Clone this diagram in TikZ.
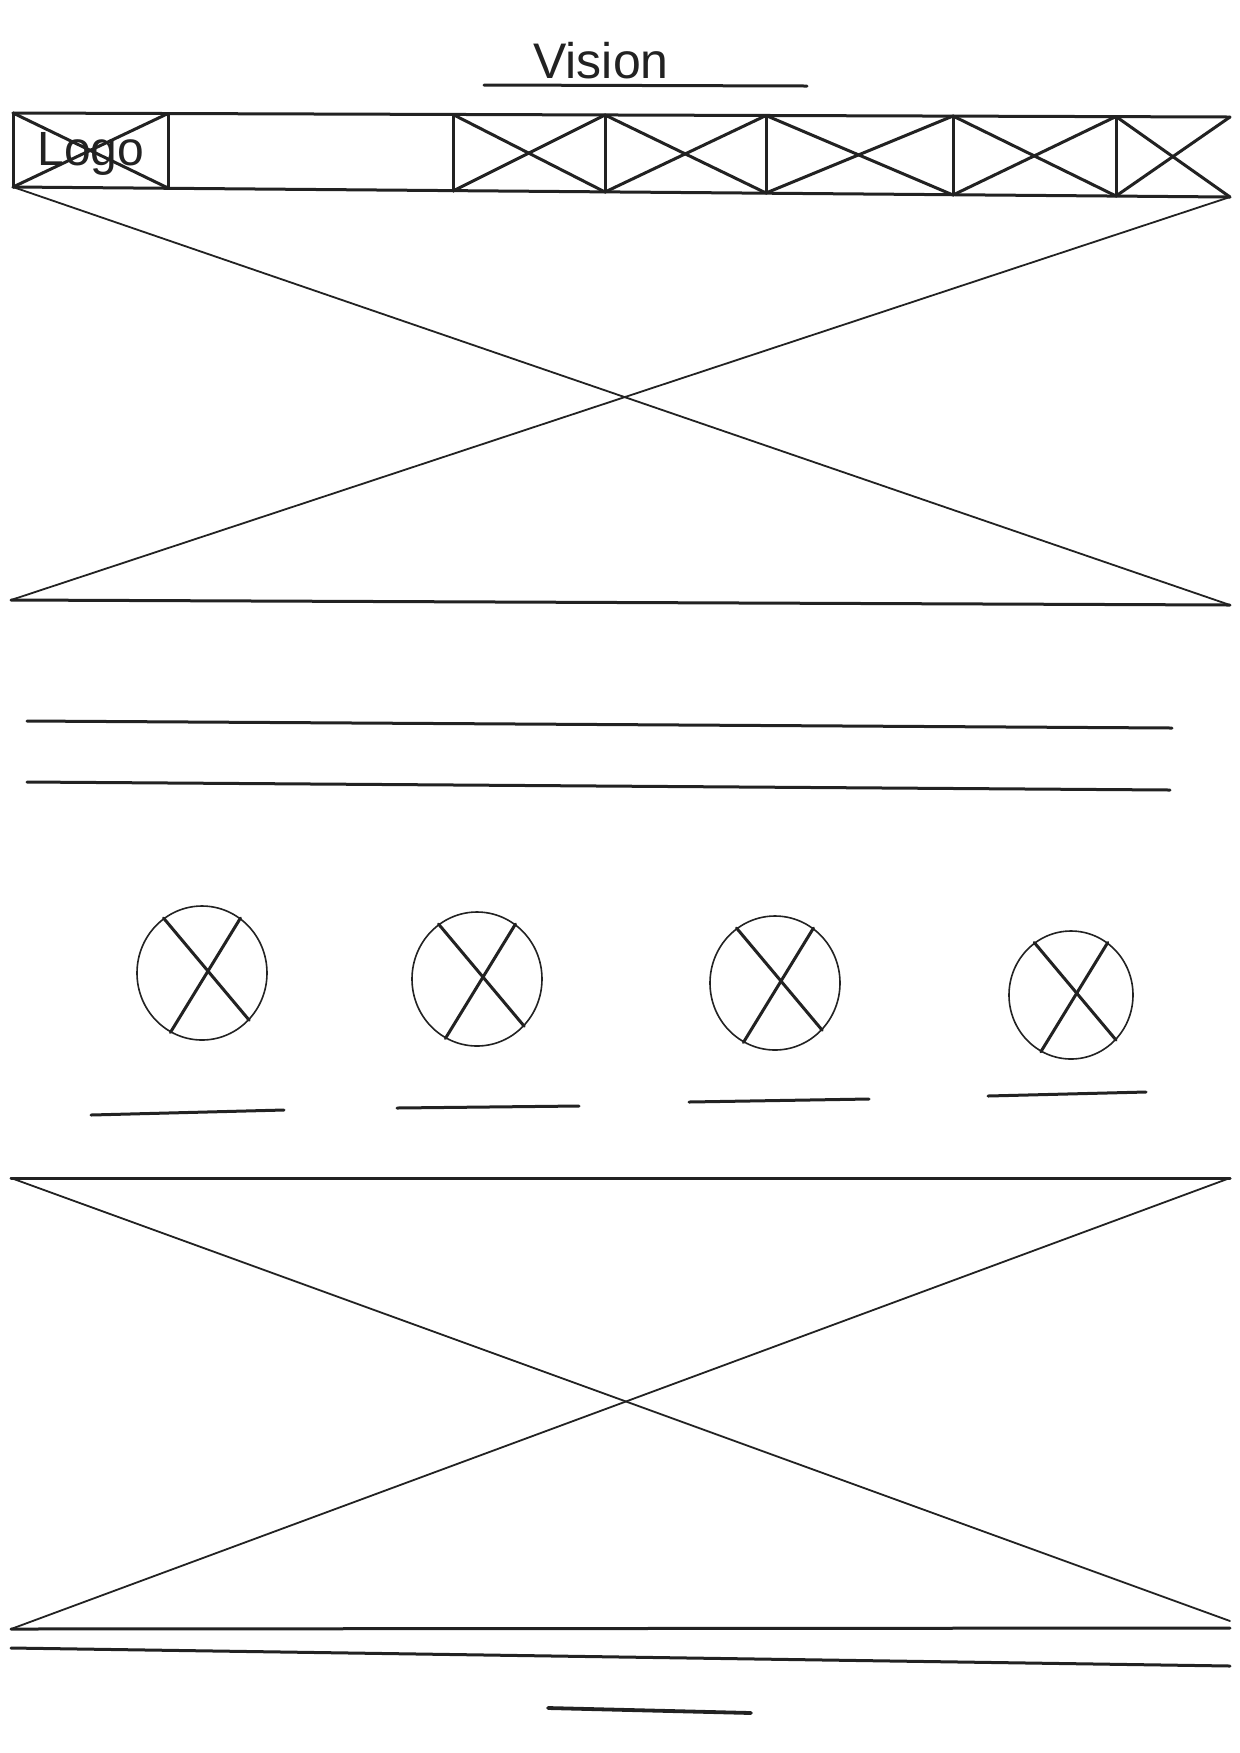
\documentclass[tikz,border=0pt]{standalone}
\usepackage{fontspec}
\setmainfont{Liberation Sans}
\definecolor{Ink}{RGB}{34,34,34}
\usetikzlibrary{shapes.geometric}

\begin{document}
\begin{tikzpicture}[x=0.5pt, y=-0.5pt,
    pen/.style={line width=1.5pt, draw=Ink, line cap=round, line join=round},
    fine/.style={line width=0.9pt, draw=Ink, line cap=round},
    icon/.style={ellipse, draw=Ink, line width=0.8pt, inner sep=0pt, minimum width=#1*0.5pt, minimum height=#1*0.5pt+2pt},
    label/.style={text=Ink, inner sep=0pt}
]
    \useasboundingbox[fill=white] (0,0) rectangle (1240,1753);

    % title
    \node[label, font=\fontsize{25}{28}\selectfont, anchor=base] (vision) at (601,78) {Vision};
    \draw[pen] (484,85) -- (807,86);

    % header bar
    \foreach \x/\yt/\yb/\n in {13/113/187/0, 168/113.5/188/1, 453/114.5/191/2, 605/115/192/3,
                              766/115.5/193/4, 953/116/195/5, 1116/116.5/196/6, 1230/117/197/7} {
        \coordinate (t\n) at (\x,\yt);
        \coordinate (b\n) at (\x,\yb);
    }
    \draw[pen] (t0) -- (t7);
    \draw[pen] (b0) -- (b7);
    \foreach \n in {0,...,6}
        \draw[pen] (t\n) -- (b\n);
    \foreach \a/\b in {0/1, 2/3, 3/4, 4/5, 5/6, 6/7} {
        \draw[pen] (t\a) -- (b\b);
        \draw[pen] (b\a) -- (t\b);
    }
    \node[label, font=\fontsize{24}{27}\selectfont, anchor=base west] (logo) at (37,165) {Logo};

    % hero image
    \coordinate (hbl) at (11,600);
    \coordinate (hbr) at (1230,605);
    \draw[pen] (hbl) -- (hbr);
    \draw[fine] (b0) -- (hbr);
    \draw[fine] (hbl) -- (b7);

    % text lines
    \draw[pen] (27,721) -- (1172,728);
    \draw[pen] (27,782) -- (1170,790);

    % icons with captions
    \foreach \cx/\cy/\d/\n in {202/973/130/1, 477/979/130/2, 775/983/130/3, 1071/995/124/4} {
        \node[icon=\d] (icon\n) at (\cx,\cy) {};
        \draw[pen] (icon\n.125) -- (icon\n.-45);
        \draw[pen] (icon\n.55) -- (icon\n.242);
    }
    \draw[pen] (91,1115) -- (284,1110);
    \draw[pen] (397,1108) -- (579,1106);
    \draw[pen] (689,1102) -- (869,1099);
    \draw[pen] (988,1096) -- (1146,1092);

    % lower image
    \coordinate (ltl) at (11,1178);
    \coordinate (ltr) at (1230,1178);
    \coordinate (lbl) at (11,1629);
    \coordinate (lbr) at (1230,1628);
    \draw[pen] (ltl) -- (ltr);
    \draw[pen] (lbl) -- (lbr);
    \draw[fine] (ltl) -- (1230,1621);
    \draw[fine] (lbl) -- (ltr);

    % footer
    \draw[pen] (11,1648) -- (1230,1666);
    \draw[pen, line width=1.9pt] (548,1708) -- (751,1713);
\end{tikzpicture}
\end{document}
